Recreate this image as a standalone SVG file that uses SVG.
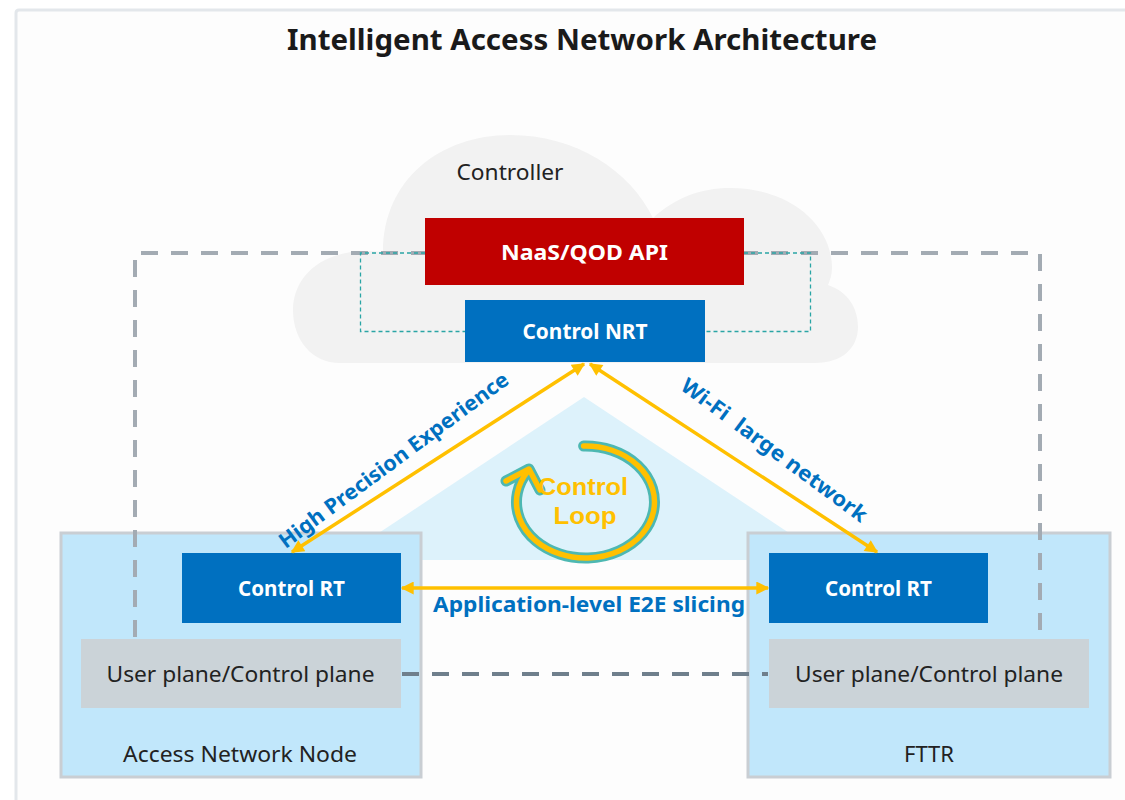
<svg xmlns="http://www.w3.org/2000/svg" width="1125" height="800" viewBox="0 0 1125 800">
  <defs>
    <marker id="ah" viewBox="0 0 10 10" refX="9" refY="5" markerWidth="15" markerHeight="13" markerUnits="userSpaceOnUse" orient="auto-start-reverse">
      <path d="M0,0 L10,5 L0,10 z" fill="#FFC000"/>
    </marker>
    <style>
      .t { font-family: "Noto Sans", "Open Sans", "Liberation Sans", sans-serif; }
      .w { fill: #FFFFFF; font-weight: bold; font-size: 21px; text-anchor: middle; }
      .dk { fill: #222222; font-size: 22px; text-anchor: middle; }
      .bl { fill: #0070C0; font-weight: bold; font-size: 21px; text-anchor: middle; white-space: pre; }
      .node { fill: #C1E7FB; stroke: #C9CED3; stroke-width: 3; }
      .ctl { fill: #0070C0; }
      .up { fill: #CBD3D8; }
      .dash { fill: none; stroke: #A3ABB3; stroke-width: 4; stroke-dasharray: 17 13; }
      .dash2 { fill: none; stroke: #6F7F8C; stroke-width: 4; stroke-dasharray: 17 13; }
      .dot { fill: none; stroke: #2AA5A5; stroke-width: 1.3; stroke-dasharray: 4 3; }
      .arr { fill: none; stroke: #FFC000; stroke-width: 3.5; marker-start: url(#ah); marker-end: url(#ah); }
      .loop { font-family: "Liberation Sans", Arial, sans-serif; font-size: 24px; font-weight: bold; fill: #FFC000; text-anchor: middle; }
    </style>
  </defs>

  <!-- background frame -->
  <rect width="1125" height="800" fill="#FFFFFF"/>
  <rect x="16" y="10" width="1120" height="800" fill="#FDFDFD"/>
  <path d="M16,800 L16,13 Q16,10 19,10 L1125,10" fill="none" stroke="#E3E7EB" stroke-width="3"/>

  <!-- title -->
  <text class="t" x="582" y="50" font-size="28" font-weight="bold" fill="#1A1A1A" text-anchor="middle" textLength="590" lengthAdjust="spacingAndGlyphs">Intelligent Access Network Architecture</text>

  <!-- cloud -->
  <g id="controller">
    <path d="M340,363 C312,363 293,340 293,310 C293,275 325,245 383,252 C383,180 440,135 510,135 C575,135 630,170 653,218 C675,198 700,188 730,188 C790,188 832,225 832,268 C832,275 830,280 828,285 C848,292 858,308 858,327 C858,348 842,363 815,363 Z" fill="#F2F2F2"/>
    <text class="t" x="510" y="180" font-size="22" fill="#222222" text-anchor="middle" textLength="107" lengthAdjust="spacingAndGlyphs">Controller</text>
  </g>

  <!-- light blue triangle -->
  <path d="M584,397 L830,560 L338,560 Z" fill="#DDF2FB"/>

  <!-- dashed frames and links -->
  <g id="connectors">
    <path class="dash" d="M135,637 L135,253 L1040,253 L1040,630"/>
    <path class="dot" d="M425,253 L360.5,253 L360.5,331.5 L465,331.5"/>
    <path class="dot" d="M744,253 L810.5,253 L810.5,331.5 L705,331.5"/>
  </g>

  <!-- nodes -->
  <g id="naas">
    <rect x="425" y="218" width="319" height="67" fill="#C00000"/>
    <text class="t w" x="584.5" y="260" textLength="167" lengthAdjust="spacingAndGlyphs">NaaS/QOD API</text>
  </g>
  <g id="control-nrt">
    <rect class="ctl" x="465" y="300" width="240" height="62"/>
    <text class="t w" x="585" y="339" textLength="125" lengthAdjust="spacingAndGlyphs">Control NRT</text>
  </g>

  <g id="access-network-node">
    <rect class="node" x="61" y="533" width="360" height="244"/>
    <path class="dash" d="M135,530 L135,637"/>
    <text class="t dk" x="240" y="762" textLength="234" lengthAdjust="spacingAndGlyphs">Access Network Node</text>
  </g>
  <g id="control-rt-left">
    <rect class="ctl" x="182" y="553" width="219" height="70"/>
    <text class="t w" x="291.5" y="596" textLength="107" lengthAdjust="spacingAndGlyphs">Control RT</text>
  </g>
  <g id="user-plane-left">
    <rect class="up" x="81" y="639" width="320" height="69"/>
    <text class="t dk" x="240.5" y="682" textLength="268" lengthAdjust="spacingAndGlyphs">User plane/Control plane</text>
  </g>

  <g id="fttr">
    <rect class="node" x="748" y="533" width="362" height="244"/>
    <path class="dash" d="M1040,523 L1040,630"/>
    <text class="t dk" x="929" y="762">FTTR</text>
  </g>
  <g id="control-rt-right">
    <rect class="ctl" x="769" y="553" width="219" height="70"/>
    <text class="t w" x="878.5" y="596" textLength="107" lengthAdjust="spacingAndGlyphs">Control RT</text>
  </g>
  <g id="user-plane-right">
    <rect class="up" x="769" y="639" width="320" height="69"/>
    <text class="t dk" x="929" y="682" textLength="268" lengthAdjust="spacingAndGlyphs">User plane/Control plane</text>
  </g>

  <!-- arrows -->
  <g id="arrows">
    <path class="dash2" d="M402,674 L768,674"/>
    <line class="arr" x1="584" y1="364" x2="292" y2="552"/>
    <line class="arr" x1="590" y1="364" x2="877" y2="552"/>
    <line class="arr" x1="402" y1="588" x2="768" y2="588"/>
    <text class="t bl" transform="translate(398,466) rotate(-36.5)" textLength="280" lengthAdjust="spacingAndGlyphs">High Precision Experience</text>
    <text class="t bl" transform="translate(770,456) rotate(36.6)" textLength="226" lengthAdjust="spacingAndGlyphs">Wi-Fi  large network</text>
    <text class="t bl" x="589" y="612" textLength="312" lengthAdjust="spacingAndGlyphs">Application-level E2E slicing</text>
  </g>

  <!-- control loop -->
  <g id="control-loop">
    <path d="M583.6,446 A69,56 0 1 1 528,471" fill="none" stroke="#4DB8B2" stroke-width="11" stroke-linecap="round"/>
    <polyline points="506,481 529,469 540,490" fill="none" stroke="#4DB8B2" stroke-width="11" stroke-linecap="round" stroke-linejoin="round"/>
    <path d="M583.6,446 A69,56 0 1 1 528,471" fill="none" stroke="#FFC000" stroke-width="5.5" stroke-linecap="round"/>
    <polyline points="506,481 529,469 540,490" fill="none" stroke="#FFC000" stroke-width="5.5" stroke-linecap="round" stroke-linejoin="round"/>
    <text class="loop" x="583" y="495" textLength="90" lengthAdjust="spacingAndGlyphs">Control</text>
    <text class="loop" x="585" y="524" textLength="63" lengthAdjust="spacingAndGlyphs">Loop</text>
  </g>
</svg>
